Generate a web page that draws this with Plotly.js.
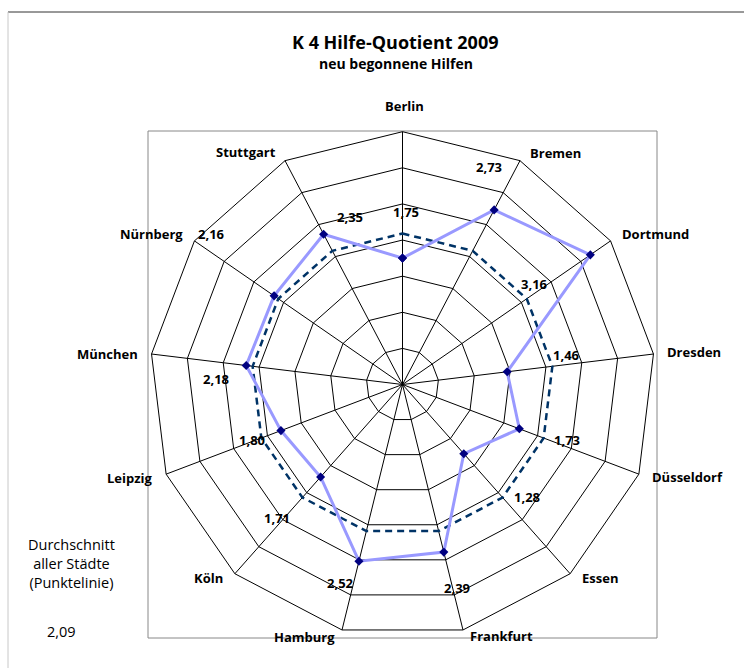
<!DOCTYPE html>
<html><head><meta charset="utf-8">
<script src="https://cdn.plot.ly/plotly-3.0.1.min.js"></script>
<style>html,body{margin:0;padding:0;background:#fff}#chart{width:744px;height:668px}</style>
</head><body><div id="chart"></div>
<script>
// ---- data ----
const cities = ['Berlin','Bremen','Dortmund','Dresden','Düsseldorf','Essen','Frankfurt','Hamburg','Köln','Leipzig','München','Nürnberg','Stuttgart'];
const quotient = [1.75, 2.73, 3.16, 1.46, 1.73, 1.28, 2.39, 2.52, 1.71, 1.80, 2.18, 2.16, 2.35];
const averageValue = 2.09;
const average = cities.map(() => averageValue);

// ---- layout helpers ----
const W = 744, H = 668;
const cx = 402.5, cy = 384.5, R = 252.8;
// pixel positions of the data labels (as placed in the original chart)
const labelPos = [[406,212],[489,167],[534,284],[566,355],[567,440],[527,497],[457,588],[340,583],[277,518],[252,440],[216,379],[211,234],[350,217]];
// category label placement: [x, y, xanchor]
const catPos = [[404,106,'center'],[528,153,'left'],[620,234,'left'],[665,352,'left'],[650,477,'left'],
                [580,578,'left'],[468,636,'left'],[337,637,'right'],[225,578,'right'],[155,478,'right'],
                [140,354,'right'],[185,234,'right'],[278,152,'right']];
const px = x => x / W, py = y => 1 - y / H;
const fmt = v => v.toFixed(2).replace('.', ',');
const close = a => a.concat([a[0]]);

const traces = [
  {type:'scatterpolar', mode:'lines', r: close(average), theta: close(cities),
   line:{color:'#003366', width:2.5, dash:'7px,5px'}, hoverinfo:'skip', showlegend:false},
  {type:'scatterpolar', mode:'lines+markers', r: close(quotient), theta: close(cities),
   line:{color:'#9999FF', width:3}, marker:{symbol:'diamond', size:7, color:'#000080'}, showlegend:false}
];

const boldFont = s => ({family:'Open Sans', size:s, color:'#000', weight:'bold'});
const annotations = quotient.map((v,i) => ({
  xref:'paper', yref:'paper', x: px(labelPos[i][0]), y: py(labelPos[i][1]),
  xanchor:'center', yanchor:'middle', showarrow:false, text: fmt(v), font: boldFont(13)
}));
cities.forEach((c,i) => annotations.push({
  xref:'paper', yref:'paper', x: px(catPos[i][0]), y: py(catPos[i][1]),
  xanchor: catPos[i][2], yanchor:'middle', showarrow:false, text: c, font: boldFont(13)
}));
annotations.push(
  {xref:'paper', yref:'paper', x:px(395), y:py(42), xanchor:'center', yanchor:'middle', showarrow:false,
   text:'K 4 Hilfe-Quotient 2009', font: boldFont(18)},
  {xref:'paper', yref:'paper', x:px(396), y:py(64), xanchor:'center', yanchor:'middle', showarrow:false,
   text:'neu begonnene Hilfen', font: boldFont(14)},
  {xref:'paper', yref:'paper', x:px(71), y:py(563), xanchor:'center', yanchor:'middle', showarrow:false,
   text:'Durchschnitt<br>aller Städte<br>(Punktelinie)', font:{family:'Open Sans', size:14.5, color:'#000'}},
  {xref:'paper', yref:'paper', x:px(61), y:py(631), xanchor:'center', yanchor:'middle', showarrow:false,
   text: fmt(averageValue), font:{family:'Open Sans', size:14.5, color:'#000'}}
);

const layout = {
  width: W, height: H, margin:{l:0,r:0,t:0,b:0},
  paper_bgcolor:'#fff', showlegend:false,
  polar:{
    domain:{x:[px(cx-R), px(cx+R)], y:[py(cy+R), py(cy-R)]},
    bgcolor:'rgba(0,0,0,0)', gridshape:'linear',
    radialaxis:{range:[0,3.5], tick0:0, dtick:0.5, showticklabels:false, ticks:'', showline:false,
                gridcolor:'#000', gridwidth:1},
    angularaxis:{direction:'clockwise', rotation:90, linecolor:'#000', linewidth:1,
                 gridcolor:'#000', gridwidth:1, ticks:'', showticklabels:false}
  },
  shapes:[
    {type:'rect', xref:'paper', yref:'paper', x0:px(148), x1:px(657), y0:py(638), y1:py(131),
     line:{color:'#888', width:1}, layer:'below'},
    {type:'line', xref:'paper', yref:'paper', x0:px(8), x1:px(744), y0:py(12), y1:py(12),
     line:{color:'#333', width:1}},
    {type:'line', xref:'paper', yref:'paper', x0:px(8), x1:px(8), y0:py(12), y1:py(668),
     line:{color:'#c8c8c8', width:1}}
  ],
  annotations
};
Plotly.newPlot('chart', traces, layout, {staticPlot:true, displayModeBar:false});
</script></body></html>
